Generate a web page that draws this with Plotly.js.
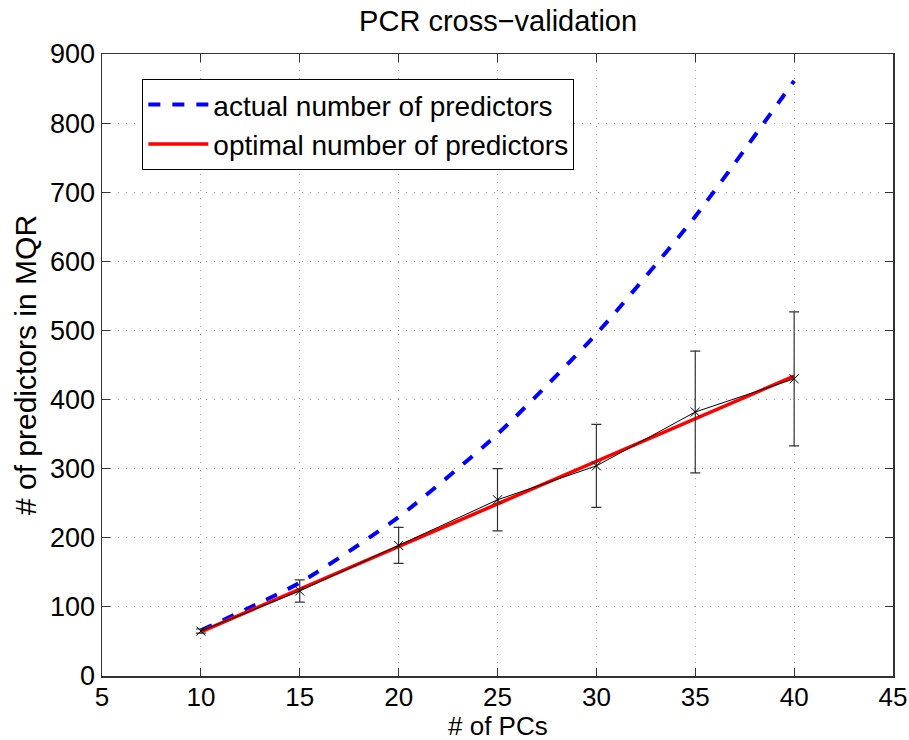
<!DOCTYPE html>
<html>
<head>
<meta charset="utf-8">
<script src="https://cdn.plot.ly/plotly-3.0.1.min.js"></script>
<style>html,body{margin:0;padding:0;background:#fff;}#chart{width:909px;height:740px;}</style>
</head>
<body>
<div id="chart"></div>
<script>
const numPCs = [10, 15, 20, 25, 30, 35, 40];
const actualPredictors = [66, 135, 230, 350, 495, 665, 861];
const cvMean = [65, 123, 189, 255, 304, 382, 430];
const cvErr = [3, 16, 26, 45, 60, 88, 97];
const fitX = [10, 40];
const fitY = [64, 434];
const xTicks = [5, 10, 15, 20, 25, 30, 35, 40, 45];
const yTicks = [0, 100, 200, 300, 400, 500, 600, 700, 800, 900];

const font = 'Liberation Sans, Arial, Helvetica, sans-serif';

const traces = [
  {
    x: numPCs, y: actualPredictors, type: 'scatter', mode: 'lines',
    name: 'actual number of predictors',
    line: {color: '#0000ff', width: 4, dash: 'dash', shape: 'spline', smoothing: 0.6}
  },
  {
    x: fitX, y: fitY, type: 'scatter', mode: 'lines',
    name: 'optimal number of predictors',
    line: {color: '#ff0000', width: 3.5}
  },
  {
    x: numPCs, y: cvMean, type: 'scatter', mode: 'lines+markers',
    showlegend: false,
    line: {color: '#000000', width: 1},
    marker: {symbol: 'x-thin-open', size: 9, color: '#000', line: {color: '#000', width: 1}},
    error_y: {type: 'data', array: cvErr, visible: true, color: '#333', thickness: 1.2, width: 5}
  }
];

const axisCommon = {
  showline: true, linecolor: '#333', linewidth: 1.5, mirror: 'ticks',
  ticks: 'inside', ticklen: 8, tickcolor: '#333', tickwidth: 1,
  showgrid: true, gridcolor: '#999', griddash: '1px,7px', gridwidth: 1,
  zeroline: false,
  tickfont: {family: font, size: 27, color: '#000'}
};

const layout = {
  width: 909, height: 740,
  paper_bgcolor: '#fff', plot_bgcolor: '#fff',
  margin: {l: 102, r: 16, t: 54, b: 64},
  title: {text: 'PCR cross\u2212validation', font: {family: font, size: 29, color: '#000'}, x: 0.548, xanchor: 'center', y: 0.972, yanchor: 'middle'},
  showlegend: true,
  legend: {
    x: 0.051, y: 0.96, xanchor: 'left', yanchor: 'top',
    bgcolor: '#fff', bordercolor: '#000', borderwidth: 1,
    font: {family: font, size: 28, color: '#000'},
    itemwidth: 60,
    tracegroupgap: 0
  },
  xaxis: Object.assign({}, axisCommon, {
    range: [5, 45], tickvals: xTicks, ticktext: xTicks.map(String),
    tickfont: {family: font, size: 26, color: '#000'},
    ticklabelstandoff: -3
  }),
  yaxis: Object.assign({}, axisCommon, {
    range: [0, 900], tickvals: yTicks, ticktext: yTicks.map(String),
    title: {text: '# of predictors in MQR', font: {family: font, size: 30, color: '#000'}, standoff: 4}
  }),
  annotations: [{
    text: '# of PCs', xref: 'paper', yref: 'paper', x: 0.5, y: -0.108, xanchor: 'center', yanchor: 'bottom',
    showarrow: false, font: {family: font, size: 26, color: '#000'}
  }]
};

Plotly.newPlot('chart', traces, layout, {displayModeBar: false, staticPlot: true});
</script>
</body>
</html>
